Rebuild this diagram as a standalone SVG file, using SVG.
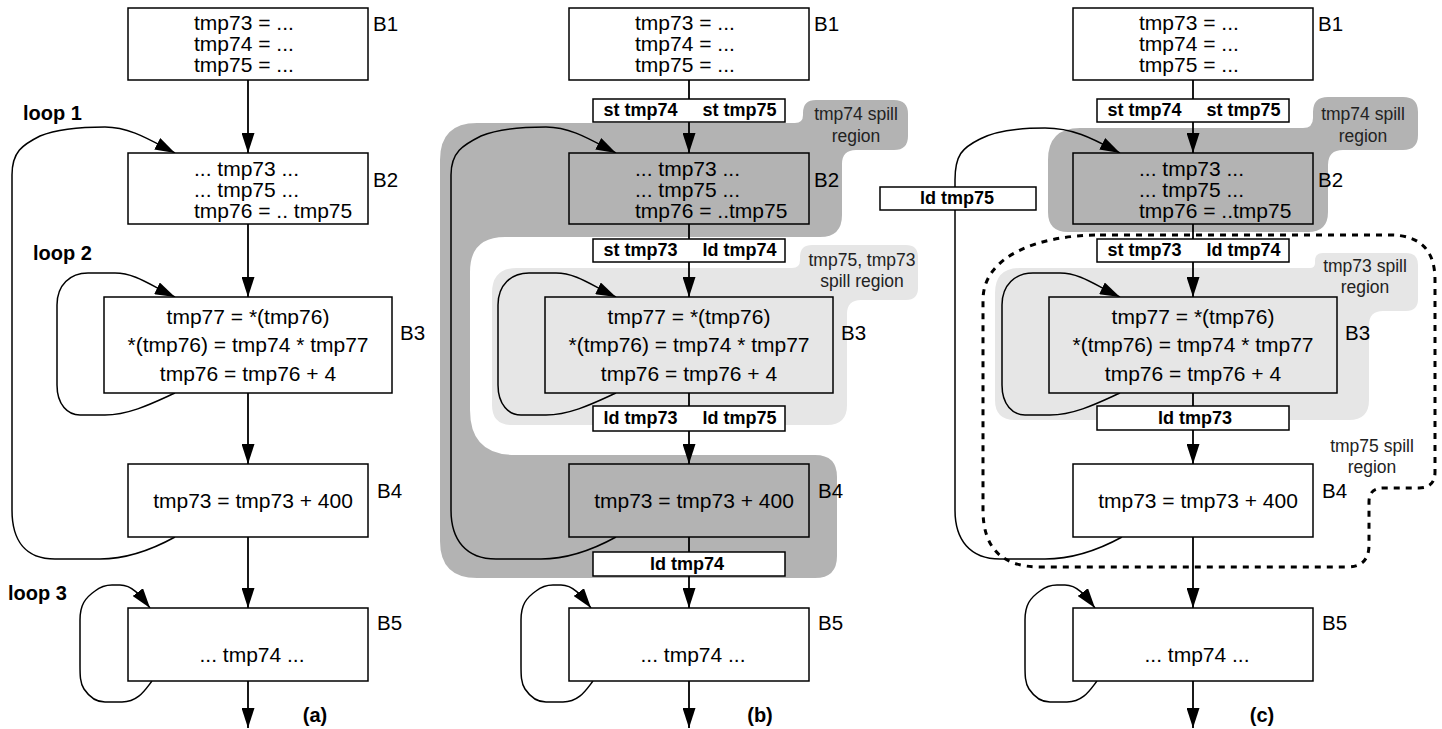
<svg xmlns="http://www.w3.org/2000/svg" width="1442" height="729" viewBox="0 0 1442 729">
  <defs>
    <marker id="ah" viewBox="0 0 20 13" refX="20" refY="6.5" markerWidth="20" markerHeight="13" markerUnits="userSpaceOnUse" orient="auto">
      <path d="M0,0 L20,6.5 L0,13 z" fill="#000"/>
    </marker>
    <style>
      .box { fill: #fff; stroke: #000; stroke-width: 1.5; }
      .box.dk { fill: #b3b3b3; }
      .box.lt { fill: #e6e6e6; }
      .dark { fill: #b3b3b3; }
      .light { fill: #e6e6e6; }
      .dash { fill: none; stroke: #000; stroke-width: 3; stroke-dasharray: 6 6; }
      .edge { fill: none; stroke: #000; stroke-width: 1.8; }
      .arr { fill: none; stroke: #000; stroke-width: 1.8; marker-end: url(#ah); }
      .loop { fill: none; stroke: #000; stroke-width: 1.5; marker-end: url(#ah); }
      text { font-family: "Liberation Sans", Arial, Helvetica, sans-serif; fill: #000; }
      .t { font-size: 21px; }
      .m { text-anchor: middle; }
      .s { font-size: 18px; font-weight: bold; text-anchor: middle; }
      .lbl { font-size: 17.5px; text-anchor: middle; fill: #222; }
      .bl { font-size: 20.5px; }
      .hd { font-size: 20px; font-weight: bold; }
    </style>
  </defs>

  <!-- ===== (a) original code ===== -->
  <g id="panel-a">
    <g id="a-connectors">
      <line class="arr" x1="248" y1="80" x2="248" y2="153"/>
      <line class="arr" x1="248" y1="224" x2="248" y2="297"/>
      <line class="arr" x1="248" y1="393" x2="248" y2="464"/>
      <line class="arr" x1="248" y1="537" x2="248" y2="608"/>
      <line class="arr" x1="248" y1="681" x2="248" y2="728"/>
      <path class="loop" d="M175,537 C155,548 130,559 100,559 L55,559 C25,559 12,540 12,510 L12,175 C12,152 22,145 40,136 C60,128 85,127 105,127 C130,127 150,140 175,153"/>
      <path class="loop" d="M175,393 C155,402 130,415 105,415 L80,415 C68,415 57,405 57,385 L57,305 C57,285 70,273 88,273 L115,273 C135,273 150,285 175,297"/>
      <path class="loop" d="M152,681 C145,690 138,702 122,702 L105,702 C95,702 88,695 84,689 C80,683 80,675 80,665 L80,620 C80,605 85,598 95,591 C100,587 105,585 112,585 L120,585 C132,585 140,595 150,608"/>
    </g>
    <g id="a-B1">
      <rect class="box" x="128" y="8" width="240" height="72"/>
      <text class="t" x="194" y="30">tmp73 = ...</text>
      <text class="t" x="194" y="51">tmp74 = ...</text>
      <text class="t" x="194" y="72">tmp75 = ...</text>
      <text class="bl" x="373" y="31">B1</text>
    </g>
    <g id="a-B2">
      <rect class="box" x="128" y="153" width="240" height="71"/>
      <text class="t" x="194" y="176">... tmp73 ...</text>
      <text class="t" x="194" y="197">... tmp75 ...</text>
      <text class="t" x="194" y="218">tmp76 = .. tmp75</text>
      <text class="bl" x="373" y="187">B2</text>
    </g>
    <g id="a-B3">
      <rect class="box" x="104" y="297" width="288" height="96"/>
      <text class="t m" x="248" y="324">tmp77 = *(tmp76)</text>
      <text class="t m" x="248" y="352">*(tmp76) = tmp74 * tmp77</text>
      <text class="t m" x="248" y="381">tmp76 = tmp76 + 4</text>
      <text class="bl" x="400" y="340">B3</text>
    </g>
    <g id="a-B4">
      <rect class="box" x="128" y="464" width="240" height="73"/>
      <text class="t m" x="253" y="508">tmp73 = tmp73 + 400</text>
      <text class="bl" x="377" y="498">B4</text>
    </g>
    <g id="a-B5">
      <rect class="box" x="128" y="608" width="240" height="73"/>
      <text class="t m" x="252" y="662">... tmp74 ...</text>
      <text class="bl" x="377" y="630">B5</text>
    </g>
    <text class="hd" x="23" y="120">loop 1</text>
    <text class="hd" x="33" y="260">loop 2</text>
    <text class="hd" x="8" y="600">loop 3</text>
    <text class="hd m" x="315" y="722">(a)</text>
  </g>

  <!-- ===== (b) spill code per region ===== -->
  <g id="panel-b" transform="translate(441,0)">
    <g id="b-regions">
      <path class="dark" d="M-1,160 Q-1,123 36,123 L354,123 Q362,123 362,115 L362,113 Q362,100 375,100 L453,100 Q467,100 467,114 L467,136 Q467,150 453,150 L415,150 Q401,150 401,164 L401,215 Q401,237 379,237 L64,237 Q29,237 29,272 L29,410 Q29,455 74,455 L374,455 Q396,455 396,477 L396,556 Q396,578 374,578 L36,578 Q-1,578 -1,541 Z"/>
      <path class="light" d="M51,293 Q51,268 76,268 L351,268 Q359,268 359,260 L359,257 Q359,245 371,245 L465,245 Q477,245 477,257 L477,288 Q477,300 465,300 L420,300 Q406,300 406,314 L406,405 Q406,425 386,425 L71,425 Q51,425 51,405 Z"/>
      <text class="lbl" x="415" y="120">tmp74 spill</text>
      <text class="lbl" x="415" y="142">region</text>
      <text class="lbl" x="421" y="266">tmp75, tmp73</text>
      <text class="lbl" x="421" y="287">spill region</text>
    </g>
    <g id="b-connectors">
      <line class="edge" x1="248" y1="80" x2="248" y2="99"/>
      <line class="arr" x1="248" y1="122" x2="248" y2="153"/>
      <line class="edge" x1="248" y1="224" x2="248" y2="239"/>
      <line class="arr" x1="248" y1="262" x2="248" y2="297"/>
      <line class="edge" x1="248" y1="393" x2="248" y2="406"/>
      <line class="arr" x1="248" y1="431" x2="248" y2="464"/>
      <line class="edge" x1="248" y1="537" x2="248" y2="552"/>
      <line class="arr" x1="248" y1="576" x2="248" y2="608"/>
      <line class="arr" x1="248" y1="681" x2="248" y2="728"/>
      <path class="loop" d="M175,537 C155,548 130,559 100,559 L55,559 C25,559 10,540 10,510 L10,175 C10,152 22,145 40,136 C60,128 85,127 105,127 C130,127 150,140 175,153"/>
      <path class="loop" d="M175,393 C155,402 130,415 105,415 L80,415 C68,415 57,405 57,385 L57,305 C57,285 70,273 88,273 L115,273 C135,273 150,285 175,297"/>
      <path class="loop" d="M152,681 C145,690 138,702 122,702 L105,702 C95,702 88,695 84,689 C80,683 80,675 80,665 L80,620 C80,605 85,598 95,591 C100,587 105,585 112,585 L120,585 C132,585 140,595 150,608"/>
    </g>
    <g id="b-B1">
      <rect class="box" x="128" y="8" width="240" height="72"/>
      <text class="t" x="194" y="30">tmp73 = ...</text>
      <text class="t" x="194" y="51">tmp74 = ...</text>
      <text class="t" x="194" y="72">tmp75 = ...</text>
      <text class="bl" x="373" y="31">B1</text>
    </g>
    <g id="b-st1">
      <rect class="box" x="152" y="99" width="192" height="23"/>
      <text class="s" x="199.5" y="116">st tmp74</text>
      <text class="s" x="298.5" y="116">st tmp75</text>
    </g>
    <g id="b-B2">
      <rect class="box dk" x="128" y="153" width="240" height="71"/>
      <text class="t" x="194" y="176">... tmp73 ...</text>
      <text class="t" x="194" y="197">... tmp75 ...</text>
      <text class="t" x="194" y="218">tmp76 = ..tmp75</text>
      <text class="bl" x="373" y="187">B2</text>
    </g>
    <g id="b-st2">
      <rect class="box" x="152" y="239" width="192" height="23"/>
      <text class="s" x="199.5" y="256">st tmp73</text>
      <text class="s" x="298.5" y="256">ld tmp74</text>
    </g>
    <g id="b-B3">
      <rect class="box lt" x="104" y="297" width="288" height="96"/>
      <text class="t m" x="248" y="324">tmp77 = *(tmp76)</text>
      <text class="t m" x="248" y="352">*(tmp76) = tmp74 * tmp77</text>
      <text class="t m" x="248" y="381">tmp76 = tmp76 + 4</text>
      <text class="bl" x="400" y="340">B3</text>
    </g>
    <g id="b-ld1">
      <rect class="box" x="152" y="406" width="192" height="25"/>
      <text class="s" x="199.5" y="424">ld tmp73</text>
      <text class="s" x="298.5" y="424">ld tmp75</text>
    </g>
    <g id="b-B4">
      <rect class="box dk" x="128" y="464" width="240" height="73"/>
      <text class="t m" x="253" y="508">tmp73 = tmp73 + 400</text>
      <text class="bl" x="377" y="498">B4</text>
    </g>
    <g id="b-ld2">
      <rect class="box" x="152" y="552" width="192" height="24"/>
      <text class="s" x="246" y="570">ld tmp74</text>
    </g>
    <g id="b-B5">
      <rect class="box" x="128" y="608" width="240" height="73"/>
      <text class="t m" x="252" y="662">... tmp74 ...</text>
      <text class="bl" x="377" y="630">B5</text>
    </g>
    <text class="hd m" x="319" y="722">(b)</text>
  </g>

  <!-- ===== (c) refined spill regions ===== -->
  <g id="panel-c" transform="translate(945,0)">
    <g id="c-regions">
      <path class="dark" d="M103,160 Q103,128 135,128 L358,128 Q368,128 368,118 L368,112 Q368,97 383,97 L458,97 Q473,97 473,112 L473,135 Q473,150 458,150 L398,150 Q383,150 383,165 L383,212 Q383,232 363,232 L123,232 Q103,232 103,212 Z"/>
      <path class="light" d="M50,293 Q50,268 75,268 L365,268 Q370,268 370,263 L370,261 Q370,253 378,253 L461,253 Q473,253 473,265 L473,299 Q473,311 461,311 L438,311 Q424,311 424,325 L424,400 Q424,420 404,420 L70,420 Q50,420 50,400 Z"/>
      <path class="dash" d="M155,235 L445,235 Q490,235 490,280 L490,472 Q490,488 474,488 L438,488 Q424,488 424,502 L424,545 Q424,567 402,567 L95,567 Q38,567 38,510 L38,300 C38,255 95,235 155,235 Z"/>
      <text class="lbl" x="418" y="120">tmp74 spill</text>
      <text class="lbl" x="418" y="142">region</text>
      <text class="lbl" x="420" y="272">tmp73 spill</text>
      <text class="lbl" x="420" y="293">region</text>
      <text class="lbl" x="427" y="452">tmp75 spill</text>
      <text class="lbl" x="427" y="473">region</text>
    </g>
    <g id="c-connectors">
      <line class="edge" x1="248" y1="80" x2="248" y2="99"/>
      <line class="arr" x1="248" y1="122" x2="248" y2="153"/>
      <line class="edge" x1="248" y1="224" x2="248" y2="239"/>
      <line class="arr" x1="248" y1="262" x2="248" y2="297"/>
      <line class="edge" x1="248" y1="393" x2="248" y2="406"/>
      <line class="arr" x1="248" y1="430" x2="248" y2="464"/>
      <line class="arr" x1="248" y1="537" x2="248" y2="608"/>
      <line class="arr" x1="248" y1="681" x2="248" y2="728"/>
      <path class="loop" d="M177,537 C157,548 130,559 100,559 L55,559 C25,559 10,540 10,510 L10,180 C10,155 17,148 35,139 C50,131 70,128 100,128 C130,128 150,140 175,153"/>
      <path class="loop" d="M175,393 C155,402 130,415 105,415 L80,415 C68,415 57,405 57,385 L57,305 C57,285 70,273 88,273 L115,273 C135,273 150,285 175,297"/>
      <path class="loop" d="M152,681 C145,690 138,702 122,702 L105,702 C95,702 88,695 84,689 C80,683 80,675 80,665 L80,620 C80,605 85,598 95,591 C100,587 105,585 112,585 L120,585 C132,585 140,595 150,608"/>
    </g>
    <g id="c-B1">
      <rect class="box" x="128" y="8" width="240" height="72"/>
      <text class="t" x="194" y="30">tmp73 = ...</text>
      <text class="t" x="194" y="51">tmp74 = ...</text>
      <text class="t" x="194" y="72">tmp75 = ...</text>
      <text class="bl" x="373" y="31">B1</text>
    </g>
    <g id="c-st1">
      <rect class="box" x="152" y="99" width="192" height="23"/>
      <text class="s" x="199.5" y="116">st tmp74</text>
      <text class="s" x="298.5" y="116">st tmp75</text>
    </g>
    <g id="c-ld75">
      <rect class="box" x="-65" y="187" width="156" height="23"/>
      <text class="s" x="12" y="204">ld tmp75</text>
    </g>
    <g id="c-B2">
      <rect class="box dk" x="128" y="153" width="240" height="71"/>
      <text class="t" x="194" y="176">... tmp73 ...</text>
      <text class="t" x="194" y="197">... tmp75 ...</text>
      <text class="t" x="194" y="218">tmp76 = ..tmp75</text>
      <text class="bl" x="373" y="187">B2</text>
    </g>
    <g id="c-st2">
      <rect class="box" x="152" y="239" width="192" height="23"/>
      <text class="s" x="199.5" y="256">st tmp73</text>
      <text class="s" x="298.5" y="256">ld tmp74</text>
    </g>
    <g id="c-B3">
      <rect class="box lt" x="104" y="297" width="288" height="96"/>
      <text class="t m" x="248" y="324">tmp77 = *(tmp76)</text>
      <text class="t m" x="248" y="352">*(tmp76) = tmp74 * tmp77</text>
      <text class="t m" x="248" y="381">tmp76 = tmp76 + 4</text>
      <text class="bl" x="400" y="340">B3</text>
    </g>
    <g id="c-ld73">
      <rect class="box" x="152" y="406" width="192" height="24"/>
      <text class="s" x="250" y="424">ld tmp73</text>
    </g>
    <g id="c-B4">
      <rect class="box" x="128" y="464" width="240" height="73"/>
      <text class="t m" x="253" y="508">tmp73 = tmp73 + 400</text>
      <text class="bl" x="377" y="498">B4</text>
    </g>
    <g id="c-B5">
      <rect class="box" x="128" y="608" width="240" height="73"/>
      <text class="t m" x="252" y="662">... tmp74 ...</text>
      <text class="bl" x="377" y="630">B5</text>
    </g>
    <text class="hd m" x="317" y="722">(c)</text>
  </g>
</svg>
